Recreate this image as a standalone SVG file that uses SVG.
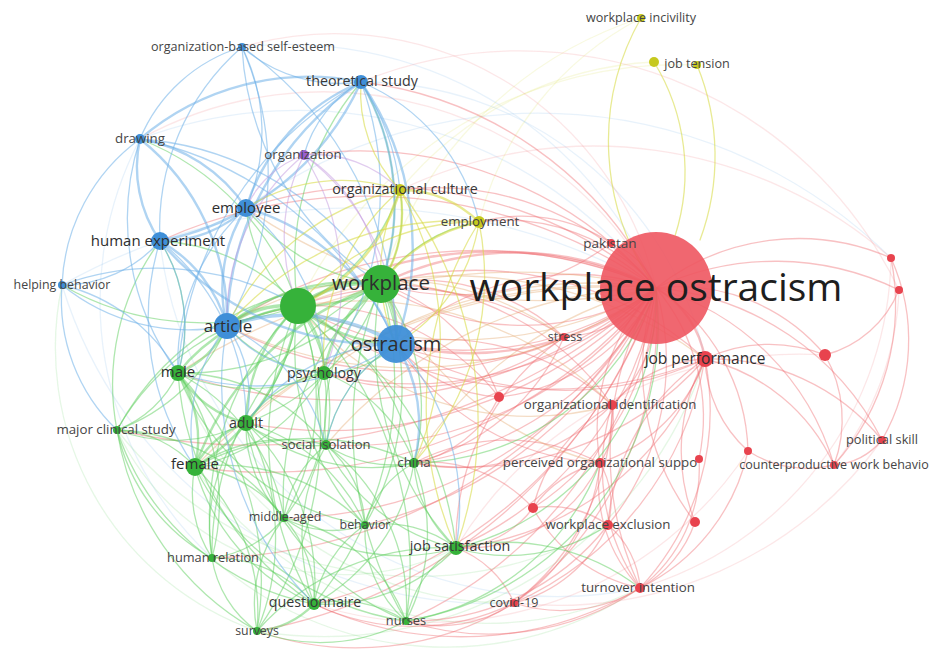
<svg xmlns="http://www.w3.org/2000/svg" width="929" height="666" viewBox="0 0 929 666">
<defs>
<filter id="soft" x="-5%" y="-5%" width="110%" height="110%"><feGaussianBlur stdDeviation="0.45"/></filter>
</defs>
<style>
#edges path{fill:none;stroke-width:1.3;stroke-linecap:round}
.r{stroke:#ee6b70;stroke-opacity:.42}
.g{stroke:#5fcf5f;stroke-opacity:.5}
.b{stroke:#6fb0e8;stroke-opacity:.55}
.y{stroke:#d5d83c;stroke-opacity:.55}
.p{stroke:#c49ae0;stroke-opacity:.5}
.o{stroke:#e09a5a;stroke-opacity:.35}
#edges .f{stroke-opacity:.16}
#edges .t2{stroke-width:2.4}
#edges .t3{stroke-width:3.6}
text{font-family:"Open Sans","Noto Sans","Liberation Sans",sans-serif;fill:#2e2e2e;text-anchor:middle}
.s{font-size:12.8px;fill:#454545}
.m{font-size:14.3px;fill:#383838}
.l{font-size:15px}
.cr{fill:#e8434e}
.cg{fill:#36b23a}
.cb{fill:#3f8fd8}
.cy{fill:#c6c91e}
.cp{fill:#9b5fcf}
</style>
<rect width="929" height="666" fill="#fff"/>
<g id="edges" filter="url(#soft)">
<!-- faint long arcs -->
<path class="g f" d="M62 285A300 300 0 0 0 257 631"/>
<path class="b f" d="M140 139A350 350 0 0 0 212 558"/>
<path class="g f" d="M117 430A250 250 0 0 0 456 548"/>
<path class="g f" d="M212 558A350 350 0 0 0 640 588"/>
<path class="g f" d="M257 631A400 400 0 0 0 705 359"/>
<path class="b f" d="M242 47A400 400 0 0 1 656 288"/>
<path class="b f" d="M140 139A450 450 0 0 1 656 288"/>
<path class="b f" d="M361 82A350 350 0 0 1 705 359"/>
<path class="b f" d="M246 208A500 500 0 0 1 891 258"/>
<path class="b f" d="M160 241A400 400 0 0 0 640 588"/>
<path class="g f" d="M178 373A350 350 0 0 0 514 603"/>
<path class="g f" d="M195 467A350 350 0 0 0 640 588"/>
<path class="b f" d="M62 285A450 450 0 0 0 514 603"/>
<path class="b f" d="M62 285A600 600 0 0 1 656 288"/>
<path class="g f" d="M117 430A380 380 0 0 0 608 525"/>
<path class="r f" d="M899 290A300 300 0 0 1 834 465"/>
<path class="r f" d="M891 258A350 350 0 0 1 640 588"/>
<path class="r f" d="M882 440A400 400 0 0 1 514 603"/>
<path class="y f" d="M641 18A400 400 0 0 0 381 284"/>
<path class="y f" d="M641 18A320 320 0 0 0 479 222"/>
<path class="y f" d="M654 62A350 350 0 0 0 400 190"/>
<path class="y f" d="M697 65A420 420 0 0 0 298 306"/>
<path class="r f" d="M656 288A380 380 0 0 0 140 139"/>
<path class="r f" d="M656 288A330 330 0 0 0 242 47"/>
<path class="r f" d="M825 355A400 400 0 0 0 456 548"/>
<path class="r f" d="M748 451A380 380 0 0 1 314 604"/>
<path class="r f" d="M899 290A420 420 0 0 0 361 82"/>
<path class="r f" d="M891 258A450 450 0 0 0 400 190"/>
<!-- red from workplace ostracism -->
<path class="r" d="M656 288A80 80 0 0 0 611 243"/>
<path class="r" d="M656 288A120 120 0 0 1 564 337"/>
<path class="r t2" d="M656 288A100 100 0 0 1 705 359"/>
<path class="r" d="M656 288A140 140 0 0 1 612 405"/>
<path class="r" d="M656 288A200 200 0 0 1 499 397"/>
<path class="r" d="M656 288A200 200 0 0 0 600 463"/>
<path class="r" d="M656 288A200 200 0 0 1 699 459"/>
<path class="r" d="M656 288A260 260 0 0 1 608 525"/>
<path class="r" d="M656 288A250 250 0 0 0 695 522"/>
<path class="r" d="M656 288A270 270 0 0 1 533 508"/>
<path class="r" d="M656 288A320 320 0 0 0 640 588"/>
<path class="r" d="M656 288A360 360 0 0 1 514 603"/>
<path class="r" d="M656 288A280 280 0 0 1 882 440"/>
<path class="r" d="M656 288A260 260 0 0 1 834 465"/>
<path class="r" d="M656 288A200 200 0 0 1 748 451"/>
<path class="r" d="M656 288A190 190 0 0 1 825 355"/>
<path class="r" d="M656 288A230 230 0 0 1 891 258"/>
<path class="r" d="M656 288A280 280 0 0 1 899 290"/>
<path class="r t2" d="M656 288A300 300 0 0 0 381 284"/>
<path class="r" d="M656 288A260 260 0 0 1 381 284"/>
<path class="r t2" d="M656 288A380 380 0 0 0 298 306"/>
<path class="r" d="M656 288A330 330 0 0 1 298 306"/>
<path class="r t2" d="M656 288A300 300 0 0 1 396 344"/>
<path class="r" d="M656 288A260 260 0 0 0 396 344"/>
<path class="r" d="M656 288A450 450 0 0 0 227 326"/>
<path class="r" d="M656 288A200 200 0 0 0 479 222"/>
<path class="r" d="M656 288A290 290 0 0 0 400 190"/>
<path class="r" d="M656 288A360 360 0 0 1 324 373"/>
<path class="r" d="M656 288A320 320 0 0 1 414 463"/>
<path class="r" d="M656 288A340 340 0 0 1 456 548"/>
<path class="r" d="M656 288A380 380 0 0 1 326 445"/>
<path class="r" d="M656 288A430 430 0 0 0 246 208"/>
<path class="r" d="M656 288A500 500 0 0 0 160 241"/>
<path class="r" d="M656 288A500 500 0 0 1 178 373"/>
<path class="r" d="M656 288A500 500 0 0 1 195 467"/>
<path class="r" d="M656 288A450 450 0 0 1 246 423"/>
<path class="r" d="M656 288A380 380 0 0 0 361 82"/>
<path class="r" d="M656 288A390 390 0 0 0 304 155"/>
<path class="r" d="M656 288A480 480 0 0 1 314 604"/>
<path class="r" d="M656 288A430 430 0 0 1 406 621"/>
<path class="r" d="M656 288A430 430 0 0 1 365 525"/>
<path class="r" d="M656 288A420 420 0 0 1 284 518"/>
<path class="o" d="M656 288A520 520 0 0 1 246 208"/>
<path class="o" d="M656 288A620 620 0 0 0 178 373"/>
<path class="o" d="M656 288A540 540 0 0 0 246 423"/>
<path class="o" d="M656 288A380 380 0 0 0 414 463"/>
<path class="o" d="M656 288A440 440 0 0 0 326 445"/>
<path class="o" d="M656 288A440 440 0 0 0 324 373"/>
<path class="o" d="M656 288A580 580 0 0 0 195 467"/>
<path class="r" d="M656 288A600 600 0 0 1 117 430"/>
<path class="r" d="M656 288A520 520 0 0 1 212 558"/>
<path class="r" d="M656 288A520 520 0 0 1 257 631"/>
<!-- red others -->
<path class="r" d="M705 359A190 190 0 0 1 834 465"/>
<path class="r" d="M705 359A220 220 0 0 1 882 440"/>
<path class="r" d="M705 359A260 260 0 0 1 640 588"/>
<path class="r" d="M705 359A220 220 0 0 0 608 525"/>
<path class="r" d="M705 359A150 150 0 0 1 825 355"/>
<path class="r" d="M705 359A170 170 0 0 1 600 463"/>
<path class="r" d="M705 359A130 130 0 0 0 612 405"/>
<path class="r" d="M705 359A330 330 0 0 1 514 603"/>
<path class="r" d="M705 359A190 190 0 0 0 695 522"/>
<path class="r" d="M705 359A130 130 0 0 0 748 451"/>
<path class="r" d="M705 359A330 330 0 0 1 396 344"/>
<path class="r" d="M705 359A340 340 0 0 0 381 284"/>
<path class="r" d="M705 359A420 420 0 0 1 298 306"/>
<path class="r" d="M705 359A320 320 0 0 1 414 463"/>
<path class="r" d="M705 359A300 300 0 0 1 456 548"/>
<path class="r" d="M612 405A80 80 0 0 1 600 463"/>
<path class="r" d="M612 405A210 210 0 0 0 640 588"/>
<path class="r" d="M612 405A250 250 0 0 1 514 603"/>
<path class="r" d="M612 405A160 160 0 0 0 533 508"/>
<path class="r" d="M612 405A250 250 0 0 0 396 344"/>
<path class="r" d="M612 405A280 280 0 0 0 381 284"/>
<path class="r" d="M612 405A220 220 0 0 1 414 463"/>
<path class="r" d="M600 463A80 80 0 0 1 608 525"/>
<path class="r" d="M600 463A150 150 0 0 0 640 588"/>
<path class="r" d="M600 463A190 190 0 0 1 514 603"/>
<path class="r" d="M600 463A110 110 0 0 0 533 508"/>
<path class="r" d="M600 463A150 150 0 0 1 456 548"/>
<path class="r" d="M600 463A200 200 0 0 0 414 463"/>
<path class="r" d="M600 463A260 260 0 0 1 396 344"/>
<path class="r" d="M640 588A90 90 0 0 0 608 525"/>
<path class="r" d="M640 588A150 150 0 0 1 514 603"/>
<path class="r" d="M640 588A160 160 0 0 1 533 508"/>
<path class="r" d="M640 588A270 270 0 0 1 406 621"/>
<path class="r" d="M640 588A350 350 0 0 1 314 604"/>
<path class="r" d="M608 525A100 100 0 0 0 533 508"/>
<path class="r" d="M608 525A140 140 0 0 1 514 603"/>
<path class="r" d="M608 525A250 250 0 0 1 406 621"/>
<path class="r" d="M533 508A100 100 0 0 1 456 548"/>
<path class="r" d="M533 508A140 140 0 0 0 414 463"/>
<path class="r" d="M834 465A70 70 0 0 0 882 440"/>
<path class="r" d="M834 465A130 130 0 0 0 825 355"/>
<path class="r" d="M834 465A110 110 0 0 1 748 451"/>
<path class="r" d="M899 290A110 110 0 0 1 825 355"/>
<path class="r" d="M891 258A240 240 0 0 1 834 465"/>
<path class="r" d="M891 258A200 200 0 0 1 882 440"/>
<path class="r" d="M699 459A150 150 0 0 1 640 588"/>
<path class="r" d="M695 522A120 120 0 0 1 640 588"/>
<path class="r" d="M748 451A200 200 0 0 1 640 588"/>
<path class="r" d="M564 337A190 190 0 0 1 396 344"/>
<path class="r" d="M564 337A210 210 0 0 0 381 284"/>
<path class="r" d="M564 337A220 220 0 0 1 414 463"/>
<path class="r" d="M564 337A250 250 0 0 0 456 548"/>
<path class="r" d="M564 337A300 300 0 0 0 298 306"/>
<path class="r" d="M564 337A380 380 0 0 1 227 326"/>
<path class="r" d="M564 337A260 260 0 0 1 324 373"/>
<path class="r" d="M499 397A190 190 0 0 0 381 284"/>
<path class="r" d="M499 397A140 140 0 0 1 396 344"/>
<path class="r" d="M499 397A120 120 0 0 1 414 463"/>
<path class="r" d="M499 397A240 240 0 0 0 298 306"/>
<path class="r" d="M611 243A160 160 0 0 0 479 222"/>
<path class="r" d="M611 243A260 260 0 0 1 381 284"/>
<path class="r" d="M514 603A130 130 0 0 1 406 621"/>
<path class="r" d="M514 603A100 100 0 0 0 456 548"/>
<path class="r" d="M514 603A230 230 0 0 1 314 604"/>
<path class="r" d="M514 603A300 300 0 0 1 257 631"/>
<path class="o" d="M656 288A400 400 0 0 1 298 306"/>
<path class="o" d="M612 405A300 300 0 0 1 298 306"/>
<path class="o" d="M600 463A330 330 0 0 1 381 284"/>
<path class="o" d="M564 337A300 300 0 0 0 227 326"/>
<path class="o" d="M656 288A420 420 0 0 1 227 326"/>
<path class="o" d="M705 359A420 420 0 0 0 298 306"/>
<path class="o" d="M612 405A360 360 0 0 0 227 326"/>
<!-- green -->
<path class="g t3" d="M298 306A120 120 0 0 1 381 284"/>
<path class="g t2" d="M298 306A150 150 0 0 0 381 284"/>
<path class="g t3" d="M298 306A100 100 0 0 0 227 326"/>
<path class="g t2" d="M298 306A180 180 0 0 0 178 373"/>
<path class="g t2" d="M298 306A220 220 0 0 1 195 467"/>
<path class="g t2" d="M298 306A160 160 0 0 0 246 423"/>
<path class="g" d="M298 306A200 200 0 0 1 246 423"/>
<path class="g t2" d="M298 306A100 100 0 0 1 324 373"/>
<path class="g t2" d="M298 306A150 150 0 0 0 396 344"/>
<path class="g" d="M298 306A150 150 0 0 1 246 208"/>
<path class="g" d="M298 306A200 200 0 0 0 160 241"/>
<path class="g" d="M298 306A180 180 0 0 1 326 445"/>
<path class="g" d="M298 306A250 250 0 0 0 117 430"/>
<path class="g" d="M298 306A240 240 0 0 1 284 518"/>
<path class="g" d="M298 306A320 320 0 0 0 314 604"/>
<path class="g" d="M298 306A220 220 0 0 1 414 463"/>
<path class="g" d="M298 306A320 320 0 0 1 456 548"/>
<path class="g" d="M298 306A300 300 0 0 0 212 558"/>
<path class="g" d="M298 306A350 350 0 0 1 257 631"/>
<path class="g" d="M298 306A260 260 0 0 0 365 525"/>
<path class="g" d="M298 306A360 360 0 0 1 406 621"/>
<path class="g" d="M298 306A280 280 0 0 1 361 82"/>
<path class="g" d="M298 306A200 200 0 0 0 400 190"/>
<path class="g" d="M298 306A270 270 0 0 0 140 139"/>
<path class="g" d="M298 306A280 280 0 0 1 62 285"/>
<path class="g t3" d="M381 284A90 90 0 0 1 396 344"/>
<path class="g t2" d="M381 284A200 200 0 0 0 227 326"/>
<path class="g t2" d="M381 284A130 130 0 0 0 324 373"/>
<path class="g" d="M381 284A260 260 0 0 1 178 373"/>
<path class="g t2" d="M381 284A300 300 0 0 0 195 467"/>
<path class="g" d="M381 284A220 220 0 0 1 246 423"/>
<path class="g" d="M381 284A210 210 0 0 1 414 463"/>
<path class="g" d="M381 284A300 300 0 0 0 456 548"/>
<path class="g" d="M381 284A200 200 0 0 0 326 445"/>
<path class="g" d="M381 284A200 200 0 0 1 246 208"/>
<path class="g" d="M381 284A130 130 0 0 0 400 190"/>
<path class="g" d="M381 284A150 150 0 0 1 479 222"/>
<path class="g" d="M381 284A350 350 0 0 1 314 604"/>
<path class="g" d="M381 284A380 380 0 0 0 406 621"/>
<path class="g" d="M381 284A270 270 0 0 1 365 525"/>
<path class="g" d="M381 284A280 280 0 0 0 284 518"/>
<path class="g" d="M381 284A240 240 0 0 0 361 82"/>
<path class="g" d="M381 284A280 280 0 0 0 117 430"/>
<path class="g" d="M381 284A300 300 0 0 0 212 558"/>
<path class="g t2" d="M178 373A120 120 0 0 1 195 467"/>
<path class="g t2" d="M178 373A110 110 0 0 0 246 423"/>
<path class="g" d="M178 373A110 110 0 0 1 117 430"/>
<path class="g" d="M178 373A180 180 0 0 0 324 373"/>
<path class="g" d="M178 373A220 220 0 0 1 212 558"/>
<path class="g" d="M178 373A300 300 0 0 0 314 604"/>
<path class="g" d="M178 373A200 200 0 0 1 284 518"/>
<path class="g t2" d="M178 373A90 90 0 0 0 227 326"/>
<path class="g" d="M178 373A160 160 0 0 0 160 241"/>
<path class="g" d="M178 373A300 300 0 0 1 257 631"/>
<path class="g" d="M178 373A190 190 0 0 1 326 445"/>
<path class="g" d="M178 373A240 240 0 0 0 365 525"/>
<path class="g t2" d="M195 467A90 90 0 0 1 246 423"/>
<path class="g" d="M195 467A110 110 0 0 0 117 430"/>
<path class="g" d="M195 467A130 130 0 0 1 284 518"/>
<path class="g" d="M195 467A120 120 0 0 0 212 558"/>
<path class="g" d="M195 467A200 200 0 0 1 257 631"/>
<path class="g" d="M195 467A210 210 0 0 0 314 604"/>
<path class="g" d="M195 467A160 160 0 0 1 326 445"/>
<path class="g" d="M195 467A200 200 0 0 0 324 373"/>
<path class="g" d="M195 467A200 200 0 0 1 365 525"/>
<path class="g" d="M195 467A280 280 0 0 0 406 621"/>
<path class="g" d="M195 467A240 240 0 0 1 414 463"/>
<path class="g" d="M246 423A160 160 0 0 1 117 430"/>
<path class="g" d="M246 423A130 130 0 0 0 284 518"/>
<path class="g" d="M246 423A120 120 0 0 1 324 373"/>
<path class="g" d="M246 423A110 110 0 0 0 326 445"/>
<path class="g" d="M246 423A220 220 0 0 1 314 604"/>
<path class="g" d="M246 423A170 170 0 0 0 212 558"/>
<path class="g" d="M246 423A240 240 0 0 1 257 631"/>
<path class="g" d="M246 423A200 200 0 0 0 414 463"/>
<path class="g" d="M246 423A180 180 0 0 1 365 525"/>
<path class="g" d="M246 423A260 260 0 0 0 406 621"/>
<path class="g" d="M117 430A190 190 0 0 0 212 558"/>
<path class="g" d="M117 430A280 280 0 0 0 257 631"/>
<path class="g" d="M117 430A220 220 0 0 1 284 518"/>
<path class="g" d="M117 430A240 240 0 0 1 160 241"/>
<path class="g" d="M117 430A190 190 0 0 0 227 326"/>
<path class="g" d="M117 430A260 260 0 0 0 314 604"/>
<path class="g t2" d="M314 604A90 90 0 0 1 257 631"/>
<path class="g" d="M314 604A120 120 0 0 0 284 518"/>
<path class="g" d="M314 604A120 120 0 0 1 365 525"/>
<path class="g" d="M314 604A180 180 0 0 0 456 548"/>
<path class="g" d="M314 604A120 120 0 0 1 406 621"/>
<path class="g" d="M314 604A200 200 0 0 0 414 463"/>
<path class="g" d="M314 604A190 190 0 0 1 326 445"/>
<path class="g" d="M314 604A130 130 0 0 0 212 558"/>
<path class="g" d="M456 548A110 110 0 0 0 406 621"/>
<path class="g" d="M456 548A120 120 0 0 1 414 463"/>
<path class="g" d="M456 548A120 120 0 0 0 365 525"/>
<path class="g" d="M456 548A200 200 0 0 1 284 518"/>
<path class="g" d="M456 548A250 250 0 0 0 257 631"/>
<path class="g" d="M456 548A190 190 0 0 1 326 445"/>
<path class="g" d="M257 631A110 110 0 0 1 212 558"/>
<path class="g" d="M257 631A180 180 0 0 0 406 621"/>
<path class="g" d="M257 631A140 140 0 0 1 284 518"/>
<path class="g" d="M284 518A110 110 0 0 1 212 558"/>
<path class="g" d="M284 518A100 100 0 0 0 365 525"/>
<path class="g" d="M284 518A160 160 0 0 1 406 621"/>
<path class="g" d="M365 525A120 120 0 0 0 406 621"/>
<path class="g" d="M324 373A90 90 0 0 0 326 445"/>
<path class="g" d="M324 373A150 150 0 0 1 414 463"/>
<path class="g" d="M324 373A100 100 0 0 0 396 344"/>
<path class="g" d="M324 373A140 140 0 0 1 227 326"/>
<path class="g" d="M324 373A180 180 0 0 1 284 518"/>
<path class="g" d="M326 445A120 120 0 0 0 414 463"/>
<path class="g" d="M326 445A110 110 0 0 1 365 525"/>
<path class="g" d="M326 445A110 110 0 0 0 284 518"/>
<path class="g" d="M326 445A150 150 0 0 1 396 344"/>
<path class="g" d="M326 445A200 200 0 0 1 406 621"/>
<path class="g" d="M414 463A100 100 0 0 0 365 525"/>
<path class="g" d="M414 463A190 190 0 0 1 406 621"/>
<path class="g" d="M456 548A220 220 0 0 1 640 588"/>
<path class="g" d="M456 548A180 180 0 0 0 608 525"/>
<path class="g" d="M456 548A260 260 0 0 0 656 288"/>
<path class="g" d="M406 621A300 300 0 0 0 656 288"/>
<path class="g" d="M414 463A260 260 0 0 0 656 288"/>
<path class="g" d="M406 621A250 250 0 0 0 600 463"/>
<!-- blue -->
<path class="b" d="M361 82A150 150 0 0 1 242 47"/>
<path class="b t2" d="M361 82A260 260 0 0 0 140 139"/>
<path class="b t2" d="M361 82A200 200 0 0 0 246 208"/>
<path class="b t2" d="M361 82A280 280 0 0 1 160 241"/>
<path class="b t2" d="M361 82A300 300 0 0 0 227 326"/>
<path class="b t2" d="M361 82A290 290 0 0 1 396 344"/>
<path class="b t2" d="M361 82A240 240 0 0 1 381 284"/>
<path class="b" d="M361 82A120 120 0 0 0 304 155"/>
<path class="b" d="M361 82A360 360 0 0 0 178 373"/>
<path class="b" d="M361 82A320 320 0 0 1 324 373"/>
<path class="b" d="M361 82A200 200 0 0 1 479 222"/>
<path class="b" d="M361 82A240 240 0 0 1 400 190"/>
<path class="b" d="M242 47A160 160 0 0 0 140 139"/>
<path class="b" d="M242 47A190 190 0 0 1 246 208"/>
<path class="b" d="M242 47A240 240 0 0 0 160 241"/>
<path class="b" d="M242 47A310 310 0 0 1 227 326"/>
<path class="b" d="M242 47A360 360 0 0 1 396 344"/>
<path class="b" d="M242 47A300 300 0 0 0 381 284"/>
<path class="b t2" d="M140 139A160 160 0 0 1 246 208"/>
<path class="b t2" d="M140 139A130 130 0 0 0 160 241"/>
<path class="b t2" d="M140 139A230 230 0 0 1 227 326"/>
<path class="b" d="M140 139A190 190 0 0 0 62 285"/>
<path class="b" d="M140 139A360 360 0 0 1 396 344"/>
<path class="b" d="M140 139A310 310 0 0 1 381 284"/>
<path class="b" d="M140 139A260 260 0 0 0 178 373"/>
<path class="b t2" d="M246 208A120 120 0 0 1 160 241"/>
<path class="b t2" d="M246 208A150 150 0 0 0 227 326"/>
<path class="b t2" d="M246 208A230 230 0 0 1 396 344"/>
<path class="b" d="M246 208A210 210 0 0 1 324 373"/>
<path class="b" d="M246 208A210 210 0 0 0 178 373"/>
<path class="b t2" d="M160 241A140 140 0 0 1 227 326"/>
<path class="b" d="M160 241A130 130 0 0 1 62 285"/>
<path class="b t2" d="M160 241A290 290 0 0 0 396 344"/>
<path class="b" d="M160 241A160 160 0 0 1 178 373"/>
<path class="b" d="M160 241A260 260 0 0 0 195 467"/>
<path class="b" d="M160 241A230 230 0 0 1 246 423"/>
<path class="b" d="M62 285A200 200 0 0 0 227 326"/>
<path class="b" d="M62 285A180 180 0 0 1 178 373"/>
<path class="b" d="M62 285A180 180 0 0 0 117 430"/>
<path class="b" d="M62 285A280 280 0 0 1 298 306"/>
<path class="b t3" d="M227 326A200 200 0 0 1 396 344"/>
<path class="b" d="M227 326A170 170 0 0 0 195 467"/>
<path class="b" d="M227 326A120 120 0 0 1 246 423"/>
<path class="b" d="M227 326A130 130 0 0 0 324 373"/>
<path class="b" d="M227 326A180 180 0 0 1 326 445"/>
<path class="b" d="M227 326A310 310 0 0 0 314 604"/>
<path class="b t2" d="M396 344A150 150 0 0 1 414 463"/>
<path class="b" d="M396 344A150 150 0 0 0 326 445"/>
<path class="b" d="M396 344A240 240 0 0 1 456 548"/>
<path class="b" d="M396 344A190 190 0 0 0 246 423"/>
<path class="b" d="M396 344A250 250 0 0 1 178 373"/>
<!-- yellow -->
<path class="y t2" d="M400 190A130 130 0 0 1 381 284"/>
<path class="y t2" d="M400 190A180 180 0 0 1 298 306"/>
<path class="y" d="M400 190A180 180 0 0 0 396 344"/>
<path class="y t2" d="M400 190A110 110 0 0 1 479 222"/>
<path class="y" d="M400 190A180 180 0 0 0 246 208"/>
<path class="y" d="M400 190A250 250 0 0 0 227 326"/>
<path class="y" d="M400 190A140 140 0 0 1 361 82"/>
<path class="y" d="M400 190A380 380 0 0 1 456 548"/>
<path class="y" d="M400 190A220 220 0 0 0 324 373"/>
<path class="y" d="M400 190A300 300 0 0 1 414 463"/>
<path class="y t2" d="M479 222A160 160 0 0 0 381 284"/>
<path class="y" d="M479 222A170 170 0 0 1 396 344"/>
<path class="y" d="M479 222A230 230 0 0 0 298 306"/>
<path class="y" d="M479 222A280 280 0 0 1 414 463"/>
<path class="y" d="M479 222A350 350 0 0 0 456 548"/>
<path class="y" d="M479 222A300 300 0 0 0 227 326"/>
<path class="y" d="M641 18A250 250 0 0 0 656 288"/>
<path class="y" d="M654 62A210 210 0 0 1 675 236"/>
<path class="y" d="M697 65A240 240 0 0 1 700 240"/>
<!-- purple -->
<path class="p" d="M304 155A170 170 0 0 1 381 284"/>
<path class="p" d="M304 155A180 180 0 0 0 298 306"/>
<path class="p" d="M304 155A100 100 0 0 0 246 208"/>
<path class="p" d="M304 155A230 230 0 0 1 396 344"/>
<path class="p" d="M304 155A210 210 0 0 0 227 326"/>
<path class="p" d="M304 155A120 120 0 0 1 400 190"/>
<path class="p" d="M304 155A240 240 0 0 1 324 373"/>
</g>
<g id="n-workplace-ostracism"><circle cx="656" cy="288" r="56" fill="#ee5660" fill-opacity=".9"/><text x="656" y="301" style="font-size:39px;fill:#1e1e1e">workplace ostracism</text></g>
<g id="n-pakistan"><circle class="cr" cx="611" cy="243" r="4"/><text class="s" x="610" y="248" style="font-size:13.5px">pakistan</text></g>
<g id="n-stress"><circle class="cr" cx="564" cy="337" r="4"/><text class="s" x="565" y="341" style="font-size:12.5px">stress</text></g>
<g id="n-job-performance"><circle class="cr" cx="705" cy="359" r="8"/><text x="705" y="364" style="font-size:15.5px">job performance</text></g>
<g id="n-organizational-identification"><circle class="cr" cx="612" cy="405" r="5"/><text class="s" x="610" y="409" style="font-size:13.3px">organizational identification</text></g>
<g id="n-r1"><circle class="cr" cx="499" cy="397" r="5"/></g>
<g id="n-perceived-organizational-support"><circle class="cr" cx="600" cy="463" r="5"/><text class="s" x="600" y="467" style="font-size:13.3px">perceived organizational suppo</text></g>
<g id="n-r2"><circle class="cr" cx="699" cy="459" r="4"/></g>
<g id="n-workplace-exclusion"><circle class="cr" cx="608" cy="525" r="5"/><text class="s" x="608" y="529" style="font-size:13.3px">workplace exclusion</text></g>
<g id="n-r3"><circle class="cr" cx="695" cy="522" r="5"/></g>
<g id="n-r4"><circle class="cr" cx="533" cy="508" r="5"/></g>
<g id="n-turnover-intention"><circle class="cr" cx="640" cy="588" r="5"/><text class="s" x="638" y="592" style="font-size:13.3px">turnover intention</text></g>
<g id="n-covid-19"><circle class="cr" cx="514" cy="603" r="4"/><text class="s" x="514" y="607" style="font-size:12.5px">covid-19</text></g>
<g id="n-political-skill"><circle class="cr" cx="882" cy="440" r="4"/><text class="s" x="882" y="444" style="font-size:12.8px">political skill</text></g>
<g id="n-counterproductive-work-behavior"><circle class="cr" cx="834" cy="465" r="4"/><text class="s" x="834" y="469" style="font-size:12.5px">counterproductive work behavio</text></g>
<g id="n-r5"><circle class="cr" cx="748" cy="451" r="4"/></g>
<g id="n-r6"><circle class="cr" cx="825" cy="355" r="6"/></g>
<g id="n-r7"><circle class="cr" cx="891" cy="258" r="4"/></g>
<g id="n-r8"><circle class="cr" cx="899" cy="290" r="4"/></g>
<g id="n-workplace-incivility"><circle class="cy" cx="641" cy="18" r="4"/><text class="s" x="641" y="22" style="font-size:12.6px">workplace incivility</text></g>
<g id="n-y1"><circle class="cy" cx="654" cy="62" r="5"/></g>
<g id="n-job-tension"><circle class="cy" cx="697" cy="65" r="4"/><text class="s" x="697" y="68" style="font-size:12.6px">job tension</text></g>
<g id="n-organizational-culture"><circle class="cy" cx="400" cy="190" r="6"/><text class="m" x="405" y="194">organizational culture</text></g>
<g id="n-employment"><circle class="cy" cx="479" cy="222" r="6"/><text class="s" x="480" y="226" style="font-size:13.3px">employment</text></g>
<g id="n-organization"><circle class="cp" cx="304" cy="155" r="5"/><text class="s" x="303" y="159" style="font-size:13.3px">organization</text></g>
<g id="n-organization-based-self-esteem"><circle class="cb" cx="242" cy="47" r="4"/><text class="s" x="243" y="51" style="font-size:12.6px">organization-based self-esteem</text></g>
<g id="n-theoretical-study"><circle class="cb" cx="361" cy="82" r="7"/><text class="m" x="362" y="86">theoretical study</text></g>
<g id="n-drawing"><circle class="cb" cx="140" cy="139" r="5"/><text class="s" x="140" y="143" style="font-size:13.3px">drawing</text></g>
<g id="n-employee"><circle class="cb" cx="246" cy="208" r="9"/><text class="l" x="246" y="213">employee</text></g>
<g id="n-human-experiment"><circle class="cb" cx="160" cy="241" r="9"/><text class="l" x="158" y="246">human experiment</text></g>
<g id="n-helping-behavior"><circle class="cb" cx="62" cy="285" r="4"/><text class="s" x="62" y="289" style="font-size:12.4px">helping behavior</text></g>
<g id="n-article"><circle class="cb" cx="227" cy="326" r="13"/><text x="228" y="332" style="font-size:17px">article</text></g>
<g id="n-ostracism"><circle class="cb" cx="396" cy="344" r="19" fill-opacity=".95"/><text x="396" y="351" style="font-size:20px">ostracism</text></g>
<g id="n-g1"><circle class="cg" cx="298" cy="306" r="18"/></g>
<g id="n-workplace"><circle class="cg" cx="381" cy="284" r="19"/><text x="381" y="290" style="font-size:20.5px">workplace</text></g>
<g id="n-male"><circle class="cg" cx="178" cy="373" r="8"/><text class="l" x="178" y="377">male</text></g>
<g id="n-psychology"><circle class="cg" cx="324" cy="373" r="7"/><text class="m" x="324" y="378">psychology</text></g>
<g id="n-adult"><circle class="cg" cx="246" cy="423" r="8"/><text class="m" x="246" y="428">adult</text></g>
<g id="n-major-clinical-study"><circle class="cg" cx="117" cy="430" r="4"/><text class="s" x="116" y="434" style="font-size:13.3px">major clinical study</text></g>
<g id="n-social-isolation"><circle class="cg" cx="326" cy="445" r="5"/><text class="s" x="326" y="449" style="font-size:13px">social isolation</text></g>
<g id="n-female"><circle class="cg" cx="195" cy="467" r="9"/><text class="l" x="195" y="469">female</text></g>
<g id="n-china"><circle class="cg" cx="414" cy="463" r="5"/><text class="s" x="414" y="467" style="font-size:13.3px">china</text></g>
<g id="n-middle-aged"><circle class="cg" cx="284" cy="518" r="4"/><text class="s" x="285" y="521" style="font-size:12.5px">middle-aged</text></g>
<g id="n-behavior"><circle class="cg" cx="365" cy="525" r="4"/><text class="s" x="365" y="529" style="font-size:12.4px">behavior</text></g>
<g id="n-job-satisfaction"><circle class="cg" cx="456" cy="548" r="7"/><text class="m" x="460" y="551">job satisfaction</text></g>
<g id="n-human-relation"><circle class="cg" cx="212" cy="558" r="4"/><text class="s" x="213" y="562">human relation</text></g>
<g id="n-questionnaire"><circle class="cg" cx="314" cy="604" r="6"/><text class="m" x="315" y="607">questionnaire</text></g>
<g id="n-surveys"><circle class="cg" cx="257" cy="631" r="4"/><text class="s" x="257" y="635" style="font-size:12.3px">surveys</text></g>
<g id="n-nurses"><circle class="cg" cx="406" cy="621" r="4"/><text class="s" x="406" y="625" style="font-size:12.8px">nurses</text></g>
</svg>
